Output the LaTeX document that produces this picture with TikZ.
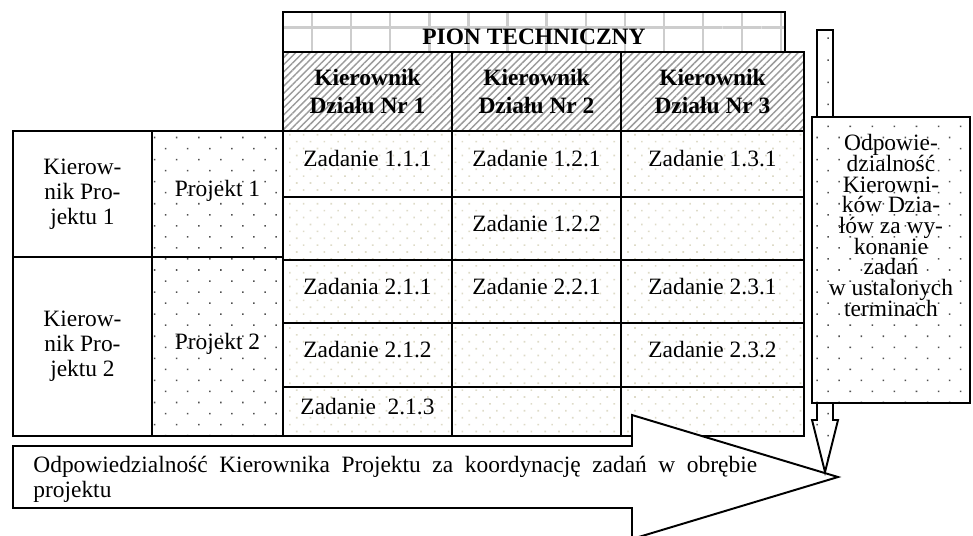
\documentclass[tikz,border=0pt]{standalone}
\usepackage{fontspec}
\setmainfont{Liberation Serif}
\usepackage{tikz}
\usetikzlibrary{patterns.meta}
\definecolor{gridgray}{RGB}{205,205,205}
\definecolor{hatchgray}{RGB}{155,155,155}
\definecolor{dotfaint}{RGB}{222,219,200}
\definecolor{dotdark}{RGB}{80,80,80}
\tikzstyle{frame}     = [draw=black, line width=1pt, inner sep=0pt, outer sep=0pt, anchor=north west, font=\fontsize{12}{12.8}\selectfont]
\tikzstyle{cell}      = [frame, align=center]
\tikzstyle{pionbox}   = [frame, font=\bfseries\fontsize{12}{14}\selectfont, text height=13.3pt, text depth=0pt, pattern={Hatch[angle=0, distance=20pt, line width=1.1pt]}, pattern color=gridgray]
\tikzstyle{kierbox}   = [cell, minimum height=1.422cm, font=\bfseries\fontsize{12}{14.3}\selectfont, pattern={Lines[angle=45, distance=2.6pt, line width=0.75pt]}, pattern color=hatchgray]
\tikzstyle{leadbox}   = [cell, minimum width=2.502cm]
\tikzstyle{projbox}   = [frame, minimum width=2.358cm, text height=8pt, text depth=5pt, pattern={Dots[angle=45, distance=8pt, radius=0.55pt]}, pattern color=dotdark]
\tikzstyle{task}      = [frame, minimum width=3.042cm, text height=8pt, text depth=5pt, pattern={Dots[angle=45, distance=5pt, radius=0.6pt]}, pattern color=dotfaint]
\tikzstyle{tasklast}  = [task, minimum width=3.294cm]
\tikzstyle{odpbox}    = [frame, preaction={fill=white}, pattern={Dots[angle=45, distance=8pt, radius=0.55pt]}, pattern color=dotdark]
\tikzstyle{bigarrow}  = [draw=black, line width=1pt, fill=white]
\tikzstyle{downarrow} = [draw=black, line width=1pt, preaction={fill=white}, pattern={Dots[angle=45, distance=8pt, radius=0.55pt]}, pattern color=dotdark]

\begin{document}
\begin{tikzpicture}[x=0.018cm, y=-0.018cm]
    \clip (0,0) rectangle (973,535);

    % pion techniczny
    \node (pion) [pionbox, minimum width=9.036cm, minimum height=0.72cm] at (283,12) {PION TECHNICZNY};
    \node (kd1)  [kierbox, minimum width=3.042cm] at (283,52) {Kierownik\\Działu Nr 1};
    \node (kd2)  [kierbox, minimum width=3.042cm] at (452,52) {Kierownik\\Działu Nr 2};
    \node (kd3)  [kierbox, minimum width=3.294cm] at (621,52) {Kierownik\\Działu Nr 3};

    % kierownicy projektow
    \node (kp1)   [leadbox, minimum height=2.268cm] at (13,131)  {Kierow-\\nik Pro-\\jektu 1};
    \node (kp2)   [leadbox, minimum height=3.222cm] at (13,257)  {Kierow-\\nik Pro-\\jektu 2};
    \node (proj1) [projbox, minimum height=2.268cm] at (152,131) {Projekt 1};
    \node (proj2) [projbox, minimum height=3.222cm] at (152,257) {Projekt 2};

    % zadania
    \node (z111) [task,     minimum height=1.188cm] at (283,131) {Zadanie 1.1.1};
    \node (z121) [task,     minimum height=1.188cm] at (452,131) {Zadanie 1.2.1};
    \node (z131) [tasklast, minimum height=1.188cm] at (621,131) {Zadanie 1.3.1};
    \node (e112) [task,     minimum height=1.134cm] at (283,197) {};
    \node (z122) [task,     minimum height=1.134cm] at (452,197) {Zadanie 1.2.2};
    \node (e132) [tasklast, minimum height=1.134cm] at (621,197) {};
    \node (z211) [task,     minimum height=1.134cm] at (283,260) {Zadania 2.1.1};
    \node (z221) [task,     minimum height=1.134cm] at (452,260) {Zadanie 2.2.1};
    \node (z231) [tasklast, minimum height=1.134cm] at (621,260) {Zadanie 2.3.1};
    \node (z212) [task,     minimum height=1.152cm] at (283,323) {Zadanie 2.1.2};
    \node (e222) [task,     minimum height=1.152cm] at (452,323) {};
    \node (z232) [tasklast, minimum height=1.152cm] at (621,323) {Zadanie 2.3.2};
    \node (z213) [task,     minimum height=0.882cm] at (283,387) {Zadanie\ \ 2.1.3};
    \node (e223) [task,     minimum height=0.882cm] at (452,387) {};
    \node (e233) [tasklast, minimum height=0.882cm] at (621,387) {};

    % strzalka pozioma
    \draw [bigarrow] (13,446) -- (632,446) -- (632,415) -- (838,477) -- (632,539) -- (632,508) -- (13,508) -- cycle;
    \node (koord) [anchor=base west, text width=13.032cm, align=justify, inner sep=0pt, font=\fontsize{12}{12.8}\selectfont] at (33,472)
        {Odpowiedzialność Kierownika Projektu za koordynację zadań w obrębie\linebreak projektu};

    % strzalka pionowa
    \draw [downarrow] (817,30) -- (833,30) -- (833,420) -- (838,420) -- (825,472) -- (812,420) -- (817,420) -- cycle;
    \node (odp) [odpbox] at (812,117)
        {\parbox[c][146.5pt][t]{80.9pt}{\centering\fontsize{12}{10.6}\selectfont\lineskiplimit=-10pt
        \vspace*{9pt}Odpowie-\\dzialność\\Kierowni-\\ków Dzia-\\łów za wy-\\konanie\\zadań\\w ustalonych\\terminach}};
\end{tikzpicture}
\end{document}
